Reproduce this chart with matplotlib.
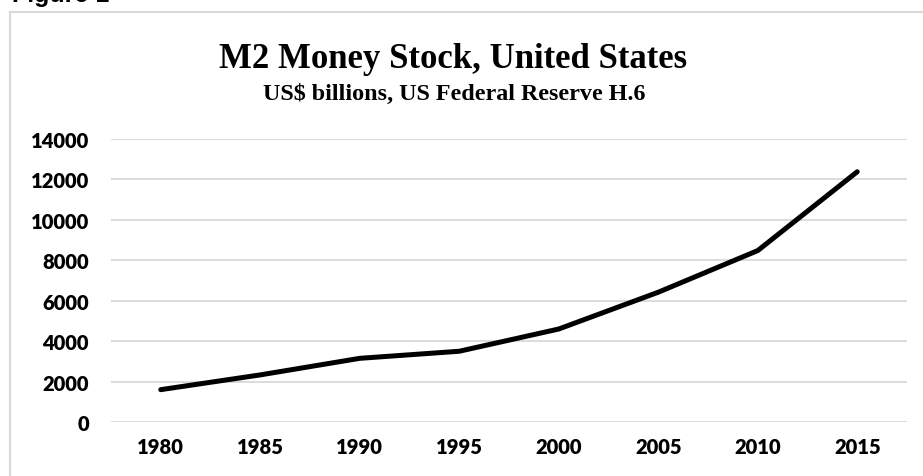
import matplotlib
matplotlib.use("Agg")
import matplotlib.pyplot as plt
from matplotlib.lines import Line2D

years = ["1980", "1985", "1990", "1995", "2000", "2005", "2010", "2015"]
m2_billions = [1600, 2330, 3150, 3500, 4600, 6420, 8480, 12380]
y_ticks = [0, 2000, 4000, 6000, 8000, 10000, 12000, 14000]

title = "M2 Money Stock, United States"
subtitle = "US$ billions, US Federal Reserve H.6"

W, H = 923, 477
fig = plt.figure(figsize=(W / 100, H / 100), dpi=100)
fig.patch.set_facecolor("white")

# outer chart border (partially cropped)
fig.add_artist(Line2D([10 / W, 10 / W], [0, 1 - 13 / H], color="#d9d9d9", lw=1.5))
fig.add_artist(Line2D([10 / W, 1], [1 - 13 / H, 1 - 13 / H], color="#d9d9d9", lw=1.5))

# cropped "Figure 1" caption
fig.text(12 / W, 1 - 2 / H, "Figure 1", family="Liberation Sans", weight="bold",
         fontsize=18, ha="left", va="baseline")

ax = fig.add_axes([111 / W, 1 - 423 / H, (907 - 111) / W, (423 - 140) / H])
x = list(range(len(years)))
ax.plot(x, m2_billions, color="black", lw=3.6, solid_capstyle="round",
        solid_joinstyle="round", zorder=3)
ax.set_xlim(-0.5, len(years) - 0.5)
ax.set_ylim(0, 14000)
ax.set_yticks(y_ticks)
ax.set_yticklabels([str(v) for v in y_ticks])
ax.set_xticks(x)
ax.set_xticklabels(years)
ax.grid(axis="y", color="#d9d9d9", lw=1.3)
ax.set_axisbelow(True)
for s in ax.spines.values():
    s.set_visible(False)
ax.tick_params(length=0)
ax.tick_params(axis="y", pad=16)
ax.tick_params(axis="x", pad=11)
for lab in ax.get_xticklabels() + ax.get_yticklabels():
    lab.set_family("Lato")
    lab.set_weight("heavy")
    lab.set_fontsize(14.5)
    lab.set_color("black")

fig.text(453 / W, 1 - 68 / H, title, family="Liberation Serif", weight="bold",
         fontsize=25, ha="center", va="baseline")
fig.text(454 / W, 1 - 100 / H, subtitle, family="Liberation Serif", weight="bold",
         fontsize=17.4, ha="center", va="baseline")

fig.savefig("out.png", dpi=100, facecolor="white")
